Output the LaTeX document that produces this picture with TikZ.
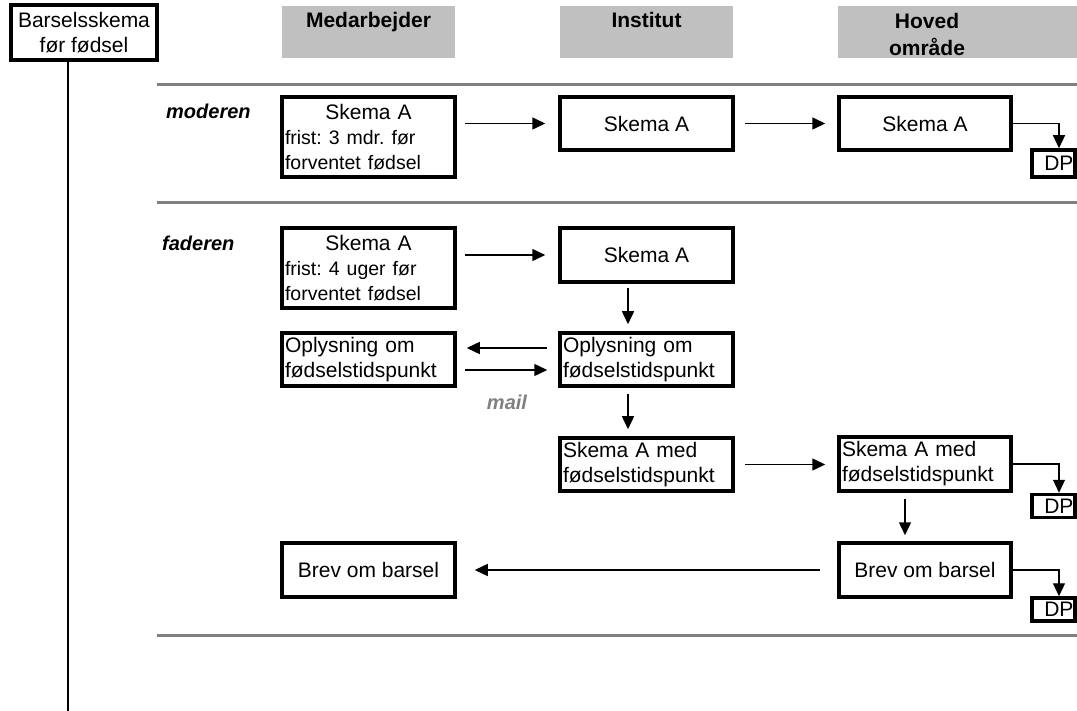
\documentclass[tikz,border=0pt]{standalone}
\usepackage{fontspec}
\setmainfont{Liberation Sans}
\usetikzlibrary{arrows.meta}
\definecolor{headgray}{HTML}{C0C0C0}
\definecolor{rulegray}{HTML}{808080}
\frenchspacing
\begin{document}
\begin{tikzpicture}[x=1pt,y=-1pt,
  every node/.style={font=\fontsize{21}{25}\selectfont},
  box/.style={draw, line width=3.5pt, minimum width=173pt, minimum height=53pt, inner sep=0pt, align=center},
  lbox/.style={draw, line width=3.5pt, text width=167pt, inner xsep=3pt, inner ysep=0pt, minimum height=53pt, align=left},
  dpbox/.style={draw, line width=3.5pt, text width=40pt, inner xsep=1.5pt, inner ysep=0pt, align=right, font=\fontsize{21}{22}\selectfont},
  headbox/.style={fill=headgray, minimum width=173pt, minimum height=52pt, inner sep=0pt},
  headtxt/.style={font=\fontsize{21}{27}\selectfont\bfseries, align=center, inner sep=0pt},
  rowlab/.style={font=\fontsize{20}{24}\selectfont\bfseries\itshape, inner sep=0pt, anchor=west},
  maillab/.style={font=\fontsize{20}{24}\selectfont\bfseries\itshape, text=rulegray, inner sep=0pt},
  arr/.style={line width=1.5pt, -{Triangle[length=13pt,width=12pt]}},
  elbow/.style={line width=1.2pt, -{Triangle[length=13pt,width=12pt]}},
  rule/.style={draw=rulegray, line width=3pt}
]
\useasboundingbox (0,0) rectangle (1077,711);

% title box and its time line
\node[box, minimum width=146pt, minimum height=55pt] (bar) at (84,32.5) {Barselsskema\\før fødsel};
\coordinate (lineEnd) at (68,711);
\draw[line width=1.5pt] (bar.south -| lineEnd) -- (lineEnd);

% column headers
\node[headbox] (hMed) at (368.5,32) {};
\node[headbox] (hInst) at (646.5,32) {};
\fill[headgray] (838,6) rectangle (1077,58);
\node[headtxt, anchor=base] (tMed) at (368.5,28) {Medarbejder};
\node[headtxt, anchor=base] (tInst) at (646.5,28) {Institut};
\node[headtxt] (tHov) at (927,34) {Hoved\\område};

% section rules
\draw[rule] (157,85) -- (1077,85);
\draw[rule] (157,203) -- (1077,203);
\draw[rule] (157,635) -- (1077,635);

% row labels
\node[rowlab] (mod) at (166,111) {moderen};
\node[rowlab] (fad) at (162,243) {faderen};

% moderen
\node[lbox, minimum height=80pt] (mA) at (368.5,137)
  {\makebox[167pt]{Skema A}\\{\fontsize{19.5}{25}\selectfont frist: 3 mdr. før}\\{\fontsize{19.5}{25}\selectfont forventet fødsel}};
\node[box] (mI) at (646.5,123.5) {Skema A};
\node[box, minimum width=172pt] (mH) at (925,123.5) {Skema A};
\node[dpbox, minimum height=27pt] (mDP) at (1053.5,163.5) {DP};

\draw[arr, shorten <=8pt, shorten >=13pt] (mA.east |- mI.west) -- (mI.west);
\draw[arr, shorten <=10pt, shorten >=12pt] (mI.east) -- (mH.west);
\draw[elbow] (mH.east) -| ([xshift=5.5pt]mDP.north);

% faderen
\node[lbox, minimum height=80pt] (fA) at (368.5,268)
  {\makebox[167pt]{Skema A}\\{\fontsize{19.5}{25}\selectfont frist: 4 uger før}\\{\fontsize{19.5}{25}\selectfont forventet fødsel}};
\node[box, minimum height=54pt] (fI) at (646.5,255) {Skema A};
\node[lbox] (fO1) at (368.5,359.5) {Oplysning om\\fødselstidspunkt};
\node[lbox] (fO2) at (646.5,359.5) {Oplysning om\\fødselstidspunkt};
\node[lbox] (fS1) at (646.5,464.5) {Skema A med\\fødselstidspunkt};
\node[lbox, text width=166pt, minimum height=54pt] (fS2) at (925,464) {Skema A med\\fødselstidspunkt};
\node[dpbox, minimum height=23pt] (fDP2) at (1053.5,506) {DP};
\node[box, minimum width=172pt, minimum height=54pt] (fB2) at (925,570) {Brev om barsel};
\node[box, minimum height=54pt] (fB1) at (368.5,570) {Brev om barsel};
\node[dpbox, minimum height=23pt] (fDP3) at (1053.5,609.5) {DP};
\node[maillab] (mail) at (507,402) {mail};

\draw[arr, shorten <=8pt, shorten >=13pt] (fA.east |- fI.west) -- (fI.west);
\draw[arr, shorten <=4pt, shorten >=7pt] ([xshift=-18.5pt]fI.south) -- ([xshift=-18.5pt]fO2.north);
\draw[arr, shorten <=11pt, shorten >=10pt] ([yshift=11.5pt]fO2.west) -- ([yshift=11.5pt]fO2.west -| fO1.east);
\draw[arr, shorten <=8pt, shorten >=11pt] ([yshift=-10.5pt]fO1.east) -- ([yshift=-10.5pt]fO1.east -| fO2.west);
\draw[arr, shorten <=6pt, shorten >=7pt] ([xshift=-18.5pt]fO2.south) -- ([xshift=-18.5pt]fS1.north);
\draw[arr, shorten <=10pt, shorten >=12pt] (fS1.east) -- (fS1.east -| fS2.west);
\draw[elbow] (fS2.east) -| ([xshift=5.5pt]fDP2.north);
\draw[arr, shorten <=6pt, shorten >=6pt] ([xshift=-20pt]fS2.south) -- ([xshift=-20pt]fB2.north);
\draw[arr, shorten <=17pt, shorten >=18pt] (fB2.west) -- (fB1.east);
\draw[elbow] (fB2.east) -| ([xshift=5.5pt]fDP3.north);
\end{tikzpicture}
\end{document}
